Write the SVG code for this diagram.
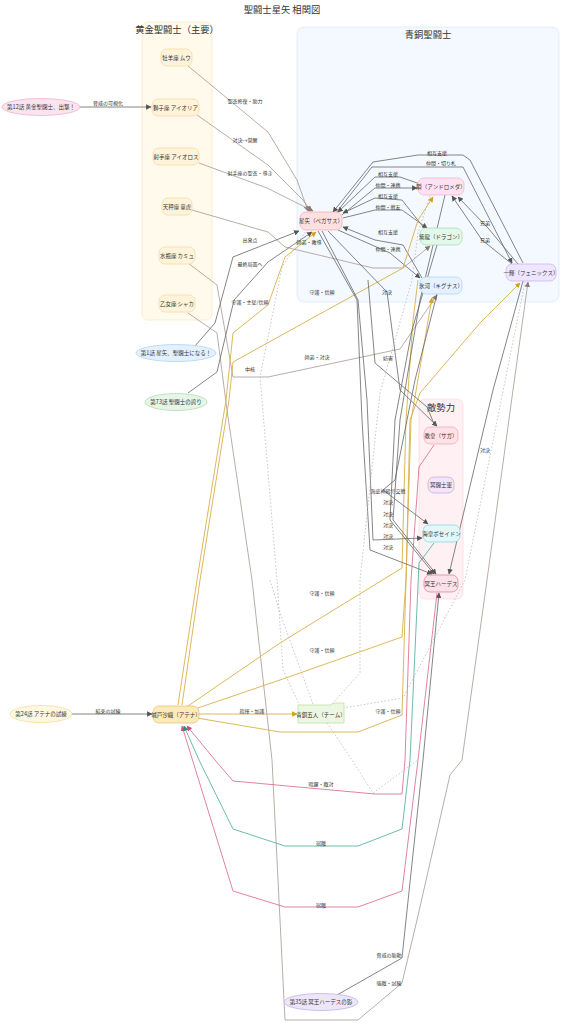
<svg xmlns="http://www.w3.org/2000/svg" width="565" height="1024" viewBox="0 0 565 1024">
<defs>
<style>
text{font-family:"Noto Sans CJK JP","Noto Sans",sans-serif;fill:#333;text-anchor:middle}
.t{font-size:9.3px}
.n{font-size:5.5px}
.l{font-size:5px}
.e{fill:none;stroke-width:0.8}
.g{stroke:#666}
.b{stroke:#a89890}
.y{stroke:#d9b04a;stroke-width:0.9}
.p{stroke:#d8628e}
.c{stroke:#4aa898}
.d{stroke:#b8b8b8;stroke-dasharray:1.5 2}
</style>
<marker id="ag" viewBox="0 0 10 10" refX="9" refY="5" markerWidth="5.5" markerHeight="5.5" orient="auto-start-reverse" markerUnits="userSpaceOnUse"><path d="M0,0L10,5L0,10z" fill="#555"/></marker>
<marker id="ab" viewBox="0 0 10 10" refX="9" refY="5" markerWidth="5.5" markerHeight="5.5" orient="auto-start-reverse" markerUnits="userSpaceOnUse"><path d="M0,0L10,5L0,10z" fill="#8a7a72"/></marker>
<marker id="ay" viewBox="0 0 10 10" refX="9" refY="5" markerWidth="5.5" markerHeight="5.5" orient="auto-start-reverse" markerUnits="userSpaceOnUse"><path d="M0,0L10,5L0,10z" fill="#d4a020"/></marker>
<marker id="ap" viewBox="0 0 10 10" refX="9" refY="5" markerWidth="5.5" markerHeight="5.5" orient="auto-start-reverse" markerUnits="userSpaceOnUse"><path d="M0,0L10,5L0,10z" fill="#d04a80"/></marker>
<marker id="ac" viewBox="0 0 10 10" refX="9" refY="5" markerWidth="5.5" markerHeight="5.5" orient="auto-start-reverse" markerUnits="userSpaceOnUse"><path d="M0,0L10,5L0,10z" fill="#2f9080"/></marker>
</defs>
<rect width="565" height="1024" fill="#fff"/>
<text class="t" x="282" y="13">聖闘士星矢 相関図</text>

<g id="cluster-gold">
<rect x="142" y="22" width="70" height="298" rx="6" fill="#fffaeb" stroke="#fbeac4" stroke-width="0.8"/>
<text class="t" x="177" y="33">黄金聖闘士（主要）</text>
</g>
<g id="cluster-bronze">
<rect x="297" y="27" width="262" height="275" rx="7" fill="#f4f9ff" stroke="#dcebfa" stroke-width="0.8"/>
<text class="t" x="428" y="38">青銅聖闘士</text>
</g>
<g id="cluster-enemy">
<rect x="419" y="399" width="44" height="200" rx="6" fill="#fff0f3" stroke="#fcd9e1" stroke-width="0.8"/>
<text class="t" x="441" y="411">敵勢力</text>
</g>

<g id="edges">
<!-- gold -->
<path class="e b" d="M188,66 L268,132 L297,180 L308,211" marker-end="url(#ab)"/>
<path class="e b" d="M197,115 L268,165 L303,200 L311,211" marker-end="url(#ab)"/>
<path class="e b" d="M199,163 L267,188 L313,211" marker-end="url(#ab)"/>
<path class="e b" d="M192,210 L268,232 L285,247 L373,268 L403,268 L430,246" marker-end="url(#ab)"/>
<path class="e b" d="M188,263 L217,285 L233,377 L268,377 L400,349 L437,295" marker-end="url(#ab)"/>
<path class="e b" d="M188,313 L217,333 L227,410 L252,580 L272,760 L280,920 L285,1020 L358,1020 L402,983 L417,920 L450,775 L462,760 L487,580 L513,390 L528,282" marker-end="url(#ab)"/>
<!-- episodes -->
<path class="e g" d="M80,107 L151,107" marker-end="url(#ag)"/>
<path class="e g" d="M195,346 L215,323 L233,257 L299,231" marker-end="url(#ag)"/>
<path class="e g" d="M188,393 L217,372 L234,300 L268,262 L312,232" marker-end="url(#ag)"/>
<path class="e g" d="M72,714 L152,714" marker-end="url(#ag)"/>
<path class="e g" d="M337,995 L402,958 L406,920 L423,760 L439,593" marker-end="url(#ag)"/>
<!-- bronze mutual -->
<path class="e g" d="M523,263 L470,160 L463,155 L418,155 L373,162 L333,212" marker-end="url(#ag)"/>
<path class="e g" d="M336,213 L372,167 L463,167 L512,263" marker-end="url(#ag)"/>
<path class="e g" d="M420,184 L400,177 L375,177 L338,212" marker-end="url(#ag)"/>
<path class="e g" d="M342,215 L375,188 L417,188" marker-end="url(#ag)"/>
<path class="e g" d="M424,228 L402,200 L375,198 L343,213" marker-end="url(#ag)"/>
<path class="e g" d="M343,218 L375,210 L402,210 L427,228" marker-end="url(#ag)"/>
<path class="e g" d="M422,278 L403,245 L375,240 L343,227" marker-end="url(#ag)"/>
<path class="e g" d="M338,230 L390,253 L420,278" marker-end="url(#ag)"/>
<path class="e g" d="M452,196 L482,240 L512,264" marker-start="url(#ag)"/>
<path class="e g" d="M518,264 L488,228 L458,197" marker-end="url(#ag)"/>
<!-- saori -->
<path class="e y" d="M199,714 L297,714" stroke-width="1.5" marker-end="url(#ay)"/>
<path class="e y" d="M178,705 L197,580 L226,400 L233,333 L268,305 L285,257 L316,232" marker-end="url(#ay)"/>
<path class="e y" d="M182,705 L200,580 L229,400 L233,362 L403,268 L418,220 L433,197" marker-end="url(#ay)"/>
<path class="e y" d="M188,706 L280,643 L402,568 L406,420 L413,320 L418,280" />
<path class="e y" d="M192,710 L280,680 L402,637 L406,580 L411,420 L432,298" marker-end="url(#ay)"/>
<path class="e y" d="M197,718 L280,732 L358,732 L402,715 L406,580 L410,420 L420,393 L480,323 L520,283" marker-end="url(#ay)"/>
<!-- enemies -->
<path class="e g" d="M328,231 L387,292 L400,390 L437,426" marker-end="url(#ag)"/>
<path class="e g" d="M322,231 L358,300 L367,400 L373,540 L422,538" marker-end="url(#ag)"/>
<path class="e g" d="M318,231 L357,300 L362,420 L370,550 L432,574" marker-end="url(#ag)"/>
<path class="e g" d="M437,245 L412,330 L395,420 L390,520 L434,574" marker-end="url(#ag)"/>
<path class="e g" d="M437,294 L415,380 L395,480 L383,490 L428,524" marker-end="url(#ag)"/>
<path class="e g" d="M445,195 L420,300 L400,420 L393,520 L436,574" marker-end="url(#ag)"/>
<path class="e g" d="M523,281 L493,390 L449,574" marker-end="url(#ag)"/>
<path class="e g" d="M368,280 L375,363 L427,407 L435,426" />
<!-- rivals -->
<path class="e p" d="M434,445 L419,467 L411,580 L405,760 L402,794 L375,794 L233,781 L215,760 L187,726" marker-end="url(#ap)"/>
<path class="e p" d="M437,593 L418,760 L402,891 L358,907 L285,907 L233,891 L182,726" marker-end="url(#ap)"/>
<path class="e c" d="M434,543 L419,563 L410,760 L402,829 L358,846 L285,846 L233,829 L199,760 L184,726" marker-end="url(#ac)"/>
<!-- dotted team -->
<path class="e d" d="M300,706 L283,670 L277,580 L262,400 L260,377 L282,267 L306,231"/>
<path class="e d" d="M332,704 L360,673 L360,580 L380,393 L412,280 L418,233 L430,196"/>
<path class="e d" d="M313,704 L280,613 L270,580"/>
<path class="e d" d="M343,708 L403,698 L465,580 L525,282"/>
<path class="e d" d="M327,723 L352,760 L373,793 L418,760"/>
</g>

<g id="edge-labels" class="l">
<text x="245" y="103">聖衣修復・助力</text>
<text x="245" y="142">対決→覚醒</text>
<text x="250" y="175">射手座の聖衣・導き</text>
<text x="309" y="244">師弟・教導</text>
<text x="317" y="359">師弟・対決</text>
<text x="389" y="985">強敵・試練</text>
<text x="108" y="105">脅威の可視化</text>
<text x="250" y="242">出発点</text>
<text x="250" y="266">最終局面へ</text>
<text x="108" y="713">結束の試練</text>
<text x="389" y="957">脅威の胎動</text>
<text x="437" y="155">相互支援</text>
<text x="441" y="165">仲間・切り札</text>
<text x="388" y="176">相互支援</text>
<text x="388" y="187">仲間・連携</text>
<text x="388" y="198">相互支援</text>
<text x="388" y="209">仲間・戦友</text>
<text x="388" y="234">相互支援</text>
<text x="388" y="251">仲間・連携</text>
<text x="485" y="225">兄弟</text>
<text x="485" y="242">兄弟</text>
<text x="252" y="713">指揮・加護</text>
<text x="250" y="304">守護・主従/信頼</text>
<text x="322" y="294">守護・信頼</text>
<text x="322" y="595">守護・信頼</text>
<text x="322" y="652">守護・信頼</text>
<text x="388" y="713">守護・信頼</text>
<text x="387" y="294">対決</text>
<text x="388" y="360">妨害</text>
<text x="388" y="493">海底神殿で交戦</text>
<text x="388" y="504">対決</text>
<text x="388" y="516">対決</text>
<text x="388" y="527">対決</text>
<text x="388" y="538">対決</text>
<text x="388" y="549">対決</text>
<text x="485" y="452">対決</text>
<text x="250" y="371">中核</text>
<text x="321" y="786">暗躍・敵対</text>
<text x="321" y="845">宿敵</text>
<text x="321" y="907">宿敵</text>
</g>

<g id="n-mu"><rect x="161" y="49" width="31" height="17" rx="6" fill="#fff4da" stroke="#f3d79c" stroke-width="0.7"/><text class="n" x="176.5" y="59.5">牡羊座 ムウ</text></g>
<g id="n-aiolia"><rect x="152" y="99" width="47" height="17" rx="6" fill="#fff4da" stroke="#f3d79c" stroke-width="0.7"/><text class="n" x="175.5" y="109.5">獅子座 アイオリア</text></g>
<g id="n-aiolos"><rect x="153" y="148" width="46" height="17" rx="6" fill="#fff4da" stroke="#f3d79c" stroke-width="0.7"/><text class="n" x="176" y="158.5">射手座 アイオロス</text></g>
<g id="n-dohko"><rect x="162" y="198" width="30" height="17" rx="6" fill="#fff4da" stroke="#f3d79c" stroke-width="0.7"/><text class="n" x="177" y="208.5">天秤座 童虎</text></g>
<g id="n-camus"><rect x="159" y="247" width="36" height="17" rx="6" fill="#fff4da" stroke="#f3d79c" stroke-width="0.7"/><text class="n" x="177" y="257.5">水瓶座 カミュ</text></g>
<g id="n-shaka"><rect x="159" y="295" width="36" height="17" rx="6" fill="#fff4da" stroke="#f3d79c" stroke-width="0.7"/><text class="n" x="177" y="305.5">乙女座 シャカ</text></g>

<g id="n-seiya"><rect x="300" y="212" width="42" height="18" rx="6" fill="#ffe0e0" stroke="#f3a6a6" stroke-width="0.7"/><text class="n" x="321" y="223">星矢（ペガサス）</text></g>
<g id="n-shun"><rect x="418" y="178" width="46" height="17" rx="6" fill="#ffe2f1" stroke="#f2aed2" stroke-width="0.7"/><text class="n" x="441" y="188.5">瞬（アンドロメダ）</text></g>
<g id="n-shiryu"><rect x="420" y="228" width="42" height="17" rx="6" fill="#e2f8e8" stroke="#9edcac" stroke-width="0.7"/><text class="n" x="441" y="238.5">紫龍（ドラゴン）</text></g>
<g id="n-hyoga"><rect x="420" y="277" width="42" height="17" rx="6" fill="#e6f1ff" stroke="#add0f2" stroke-width="0.7"/><text class="n" x="441" y="287.5">氷河（キグナス）</text></g>
<g id="n-ikki"><rect x="506" y="264" width="50" height="17" rx="6" fill="#eee6ff" stroke="#c4aef2" stroke-width="0.7"/><text class="n" x="531" y="274.5">一輝（フェニックス）</text></g>

<g id="n-saga"><rect x="424" y="427" width="34" height="17" rx="6" fill="#ffe1e6" stroke="#eca6b4" stroke-width="0.7"/><text class="n" x="441" y="437.5">教皇（サガ）</text></g>
<g id="n-specters"><rect x="428" y="477" width="26" height="16" rx="6" fill="#f3e4f7" stroke="#c9a2dc" stroke-width="0.7"/><text class="n" x="441" y="487">冥闘士軍</text></g>
<g id="n-poseidon"><rect x="423" y="525" width="37" height="17" rx="6" fill="#e1f7fa" stroke="#82d4dd" stroke-width="0.7"/><text class="n" x="441.5" y="535.5">海皇ポセイドン</text></g>
<g id="n-hades"><rect x="424" y="575" width="34" height="17" rx="6" fill="#fde1e9" stroke="#d97a98" stroke-width="0.7"/><text class="n" x="441" y="585.5">冥王ハーデス</text></g>

<g id="n-saori"><rect x="153" y="706" width="46" height="17" rx="6" fill="#fdeabb" stroke="#e3bd66" stroke-width="0.7"/><text class="n" x="176" y="716.5">城戸沙織（アテナ）</text></g>
<g id="n-team"><path d="M298,705 L331,705 L333,703 L344,703 L344,723 L298,723 Z" fill="#ecf7e3" stroke="#b8dd9c" stroke-width="0.7"/><text class="n" x="321" y="716.5">青銅五人（チーム）</text></g>

<g id="n-ep12"><ellipse cx="41" cy="107" rx="39" ry="8.5" fill="#fce4ee" stroke="#f0a6c4" stroke-width="0.7"/><text class="n" x="41" y="109">第12話 黄金聖闘士、出撃！</text></g>
<g id="n-ep1"><ellipse cx="176" cy="353" rx="40" ry="8.5" fill="#e3f0fd" stroke="#a9cdf0" stroke-width="0.7"/><text class="n" x="176" y="355">第1話 星矢、聖闘士になる！</text></g>
<g id="n-ep73"><ellipse cx="176" cy="402" rx="31" ry="8.5" fill="#e6f5e6" stroke="#aad9aa" stroke-width="0.7"/><text class="n" x="176" y="404">第73話 聖闘士の誇り</text></g>
<g id="n-ep24"><ellipse cx="41" cy="714" rx="31" ry="8.5" fill="#fff8e0" stroke="#f2da94" stroke-width="0.7"/><text class="n" x="41" y="716">第24話 アテナの試練</text></g>
<g id="n-ep35"><ellipse cx="321" cy="1002" rx="37" ry="8.5" fill="#ede5f8" stroke="#baa9e2" stroke-width="0.7"/><text class="n" x="321" y="1004">第35話 冥王ハーデスの影</text></g>
</svg>
